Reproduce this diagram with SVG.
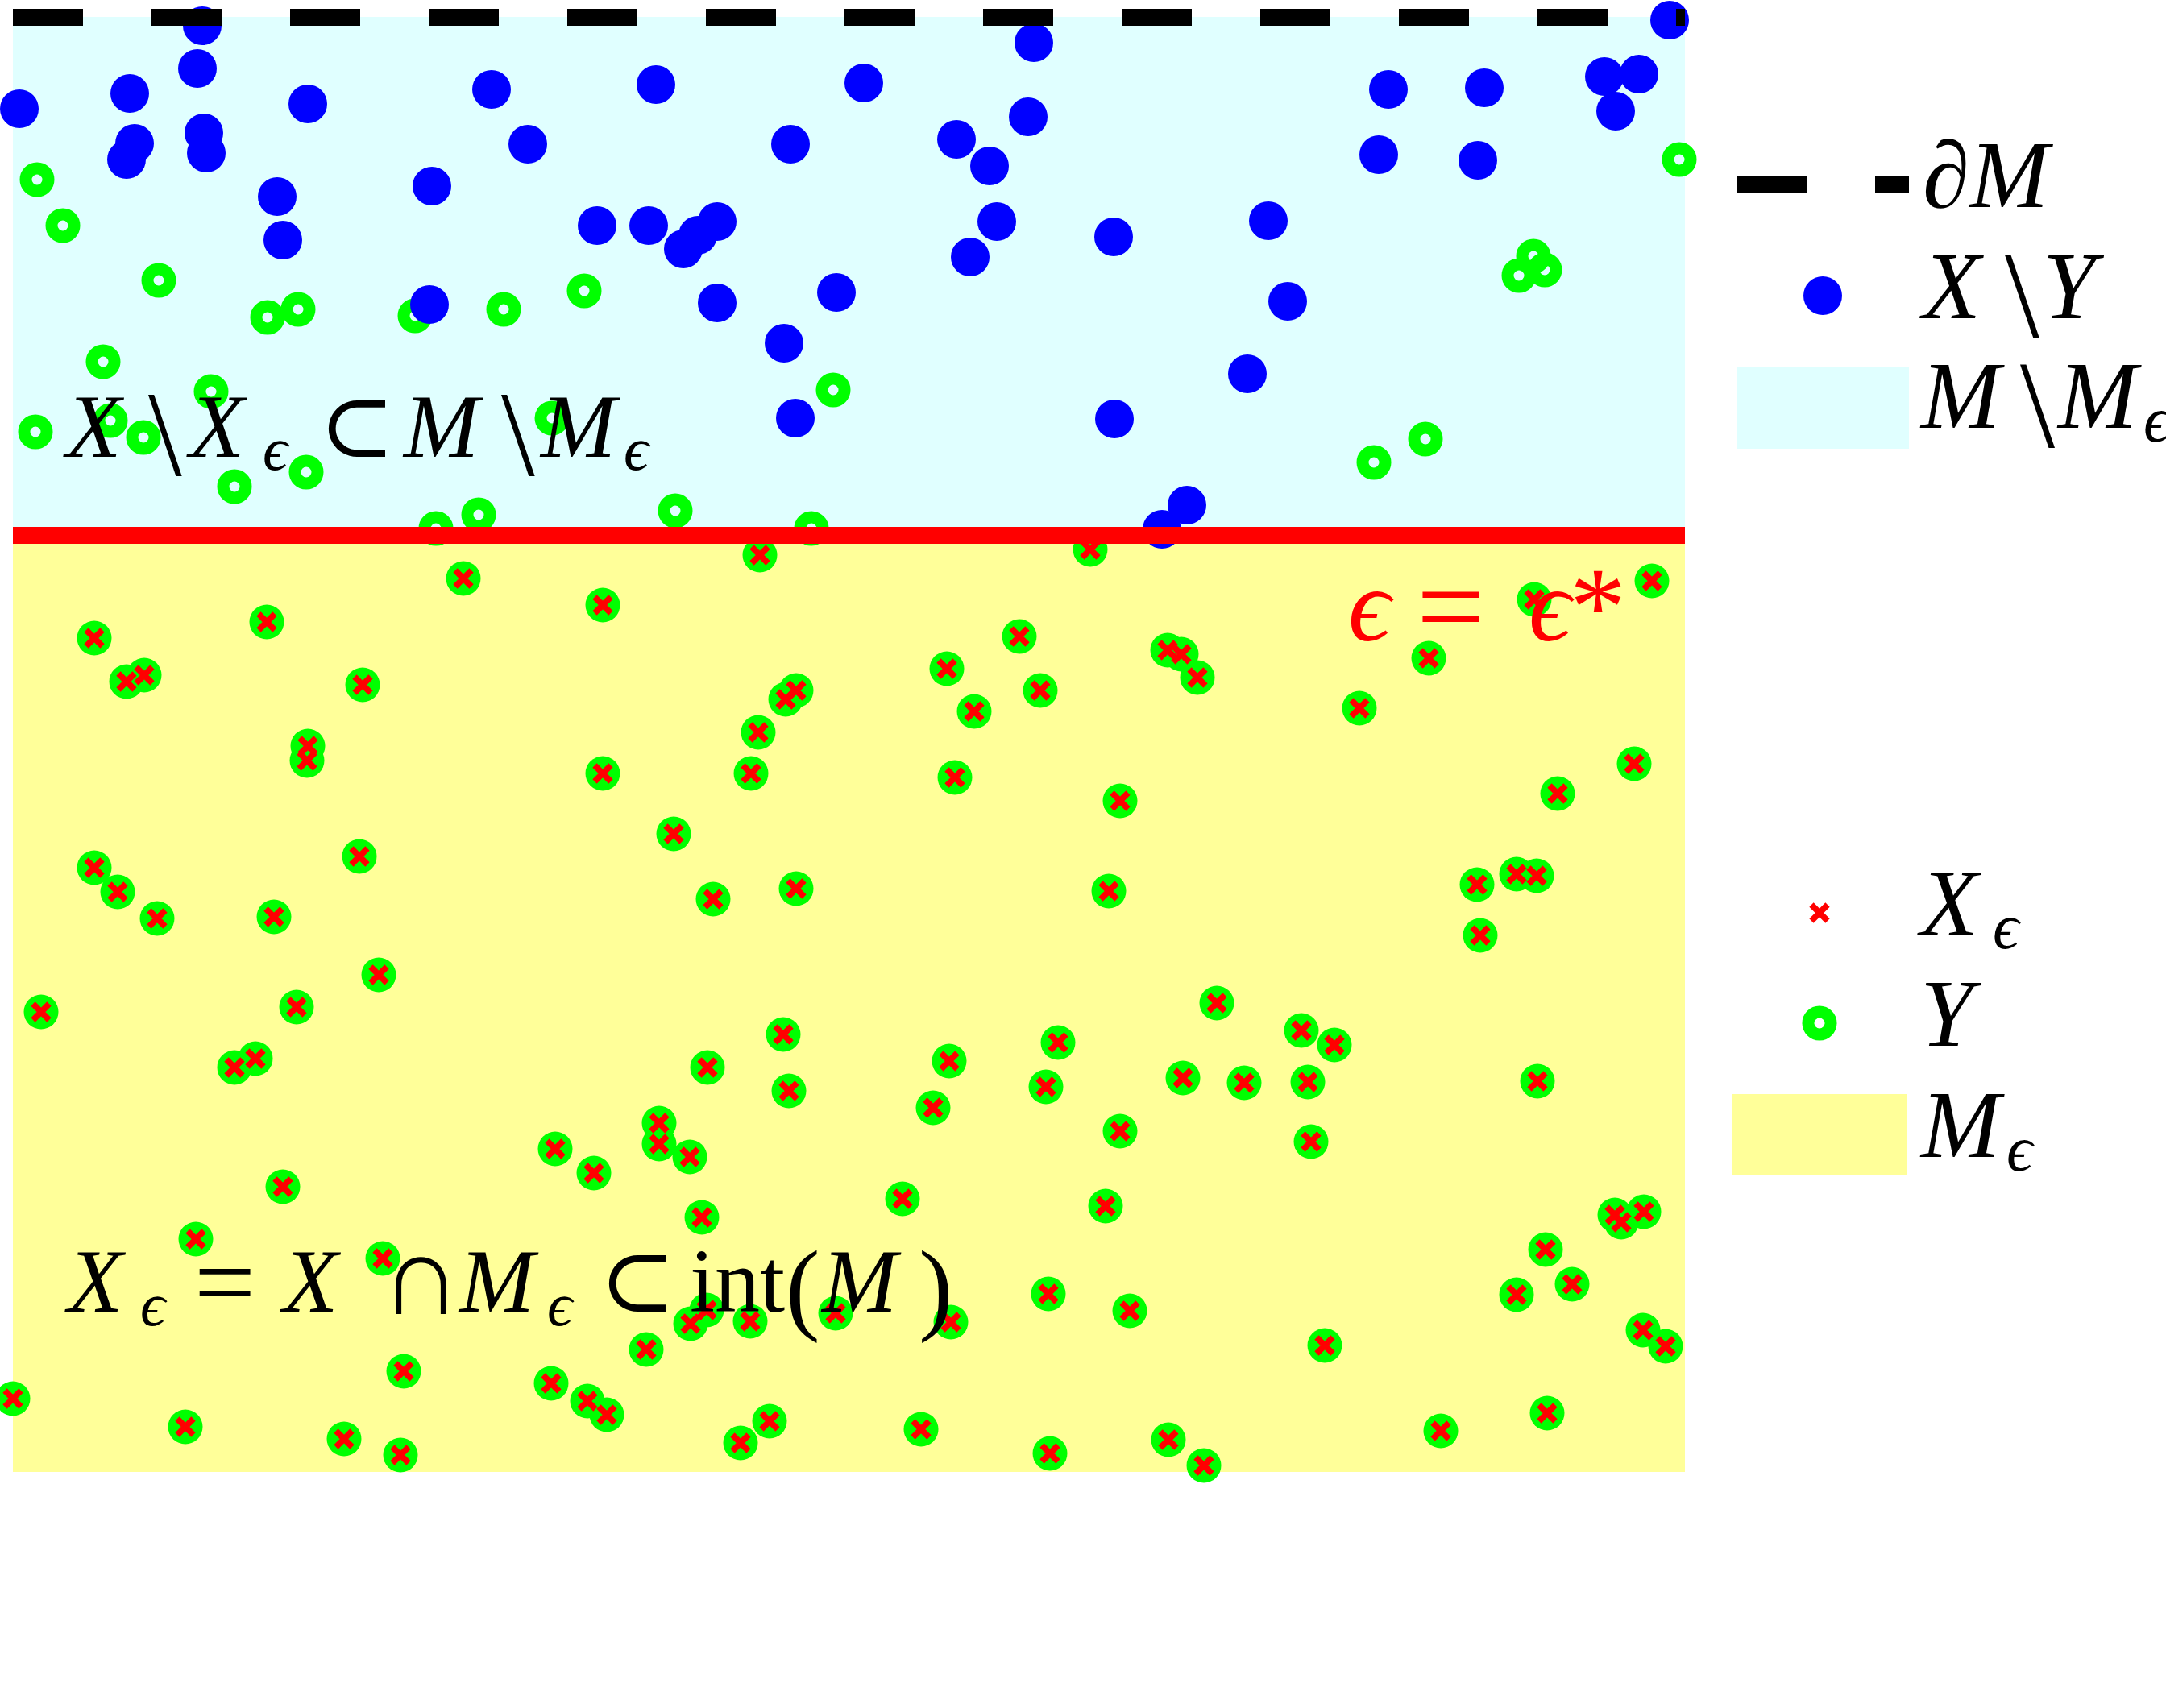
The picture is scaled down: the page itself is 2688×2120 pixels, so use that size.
<svg xmlns="http://www.w3.org/2000/svg" xmlns:xlink="http://www.w3.org/1999/xlink" width="2688" height="2120" viewBox="0 0 2688 2120">
<style>
.t{font-family:"Liberation Serif","DejaVu Serif",serif;fill:#000}
.i{font-style:italic}
.bs{font-family:"Liberation Serif","DejaVu Serif",serif;font-style:normal}
.r{fill:#ff0000}
</style>
<defs>
<circle id="b" r="24" fill="#0000ff"/>
<circle id="ring" r="14" fill="none" stroke="#00ff00" stroke-width="15"/>
<circle id="g" r="21.5" fill="#00ff00"/>
<path id="x" d="M-10,-10L10,10M-10,10L10,-10" stroke="#ff0000" stroke-width="7.5" fill="none"/>
</defs>
<rect width="2688" height="2120" fill="#ffffff"/>
<g id="regions">
<rect x="16" y="21" width="2075" height="643" fill="#e0ffff"/>
<rect x="16" y="664" width="2075" height="1163" fill="#ffff99"/>
</g>
<g id="Y-outer">
<use xlink:href="#ring" x="46" y="223"/><use xlink:href="#ring" x="78" y="280"/><use xlink:href="#ring" x="197" y="348"/><use xlink:href="#ring" x="332" y="394"/><use xlink:href="#ring" x="370" y="384"/><use xlink:href="#ring" x="515" y="392"/><use xlink:href="#ring" x="625" y="384"/><use xlink:href="#ring" x="725" y="361"/><use xlink:href="#ring" x="128" y="449"/><use xlink:href="#ring" x="262" y="486"/><use xlink:href="#ring" x="44" y="536"/><use xlink:href="#ring" x="137" y="522"/><use xlink:href="#ring" x="178" y="543"/><use xlink:href="#ring" x="291" y="604"/><use xlink:href="#ring" x="380" y="586"/><use xlink:href="#ring" x="685" y="519"/><use xlink:href="#ring" x="594" y="639"/><use xlink:href="#ring" x="541" y="656"/><use xlink:href="#ring" x="838" y="634"/><use xlink:href="#ring" x="1007" y="656"/><use xlink:href="#ring" x="1034" y="484"/><use xlink:href="#ring" x="2084" y="198"/><use xlink:href="#ring" x="1885" y="342"/><use xlink:href="#ring" x="1903" y="318"/><use xlink:href="#ring" x="1917" y="335"/><use xlink:href="#ring" x="1705" y="574"/><use xlink:href="#ring" x="1769" y="545"/>
</g>
<g id="X-minus-Y">
<use xlink:href="#b" x="24" y="135"/><use xlink:href="#b" x="251" y="32"/><use xlink:href="#b" x="245" y="85"/><use xlink:href="#b" x="161" y="116"/><use xlink:href="#b" x="167" y="178"/><use xlink:href="#b" x="157" y="198"/><use xlink:href="#b" x="253" y="165"/><use xlink:href="#b" x="256" y="190"/><use xlink:href="#b" x="382" y="129"/><use xlink:href="#b" x="344" y="244"/><use xlink:href="#b" x="351" y="298"/><use xlink:href="#b" x="536" y="231"/><use xlink:href="#b" x="610" y="111"/><use xlink:href="#b" x="655" y="179"/><use xlink:href="#b" x="533" y="378"/><use xlink:href="#b" x="814" y="105"/><use xlink:href="#b" x="741" y="280"/><use xlink:href="#b" x="805" y="280"/><use xlink:href="#b" x="848" y="309"/><use xlink:href="#b" x="866" y="292"/><use xlink:href="#b" x="890" y="275"/><use xlink:href="#b" x="890" y="376"/><use xlink:href="#b" x="981" y="179"/><use xlink:href="#b" x="973" y="426"/><use xlink:href="#b" x="987" y="519"/><use xlink:href="#b" x="1038" y="363"/><use xlink:href="#b" x="1072" y="103"/><use xlink:href="#b" x="1283" y="53"/><use xlink:href="#b" x="1187" y="173"/><use xlink:href="#b" x="1276" y="145"/><use xlink:href="#b" x="1228" y="206"/><use xlink:href="#b" x="1237" y="275"/><use xlink:href="#b" x="1204" y="319"/><use xlink:href="#b" x="1382" y="294"/><use xlink:href="#b" x="1383" y="520"/><use xlink:href="#b" x="1473" y="627"/><use xlink:href="#b" x="1442" y="657"/><use xlink:href="#b" x="1574" y="274"/><use xlink:href="#b" x="1598" y="374"/><use xlink:href="#b" x="1548" y="464"/><use xlink:href="#b" x="1723" y="111"/><use xlink:href="#b" x="1711" y="192"/><use xlink:href="#b" x="1842" y="109"/><use xlink:href="#b" x="1834" y="199"/><use xlink:href="#b" x="1991" y="95"/><use xlink:href="#b" x="2034" y="92"/><use xlink:href="#b" x="2005" y="138"/><use xlink:href="#b" x="2072" y="25"/>
</g>
<g id="Y-inner">
<use xlink:href="#g" x="943" y="689"/><use xlink:href="#g" x="1353" y="682"/><use xlink:href="#g" x="575" y="718"/><use xlink:href="#g" x="748" y="751"/><use xlink:href="#g" x="2050" y="721"/><use xlink:href="#g" x="1904" y="744"/><use xlink:href="#g" x="331" y="772"/><use xlink:href="#g" x="117" y="792"/><use xlink:href="#g" x="157" y="846"/><use xlink:href="#g" x="179" y="838"/><use xlink:href="#g" x="450" y="850"/><use xlink:href="#g" x="1175" y="830"/><use xlink:href="#g" x="1265" y="790"/><use xlink:href="#g" x="1449" y="807"/><use xlink:href="#g" x="1466" y="812"/><use xlink:href="#g" x="1486" y="841"/><use xlink:href="#g" x="1773" y="817"/><use xlink:href="#g" x="975" y="868"/><use xlink:href="#g" x="988" y="857"/><use xlink:href="#g" x="1209" y="883"/><use xlink:href="#g" x="1291" y="857"/><use xlink:href="#g" x="1687" y="879"/><use xlink:href="#g" x="382" y="926"/><use xlink:href="#g" x="381" y="944"/><use xlink:href="#g" x="941" y="909"/><use xlink:href="#g" x="748" y="960"/><use xlink:href="#g" x="932" y="960"/><use xlink:href="#g" x="1185" y="965"/><use xlink:href="#g" x="2028" y="948"/><use xlink:href="#g" x="1933" y="985"/><use xlink:href="#g" x="1390" y="994"/><use xlink:href="#g" x="836" y="1035"/><use xlink:href="#g" x="117" y="1077"/><use xlink:href="#g" x="146" y="1107"/><use xlink:href="#g" x="195" y="1140"/><use xlink:href="#g" x="340" y="1138"/><use xlink:href="#g" x="446" y="1063"/><use xlink:href="#g" x="885" y="1116"/><use xlink:href="#g" x="988" y="1103"/><use xlink:href="#g" x="1376" y="1106"/><use xlink:href="#g" x="1833" y="1098"/><use xlink:href="#g" x="1882" y="1085"/><use xlink:href="#g" x="1907" y="1087"/><use xlink:href="#g" x="1837" y="1161"/><use xlink:href="#g" x="51" y="1256"/><use xlink:href="#g" x="368" y="1250"/><use xlink:href="#g" x="470" y="1210"/><use xlink:href="#g" x="1510" y="1245"/><use xlink:href="#g" x="1615" y="1279"/><use xlink:href="#g" x="1656" y="1297"/><use xlink:href="#g" x="291" y="1325"/><use xlink:href="#g" x="317" y="1314"/><use xlink:href="#g" x="972" y="1284"/><use xlink:href="#g" x="878" y="1325"/><use xlink:href="#g" x="1178" y="1317"/><use xlink:href="#g" x="1313" y="1294"/><use xlink:href="#g" x="979" y="1354"/><use xlink:href="#g" x="1158" y="1375"/><use xlink:href="#g" x="1298" y="1349"/><use xlink:href="#g" x="1468" y="1338"/><use xlink:href="#g" x="1544" y="1344"/><use xlink:href="#g" x="1623" y="1343"/><use xlink:href="#g" x="1908" y="1342"/><use xlink:href="#g" x="818" y="1394"/><use xlink:href="#g" x="818" y="1420"/><use xlink:href="#g" x="856" y="1436"/><use xlink:href="#g" x="689" y="1426"/><use xlink:href="#g" x="737" y="1456"/><use xlink:href="#g" x="1390" y="1404"/><use xlink:href="#g" x="1627" y="1417"/><use xlink:href="#g" x="351" y="1473"/><use xlink:href="#g" x="871" y="1511"/><use xlink:href="#g" x="1120" y="1488"/><use xlink:href="#g" x="1372" y="1497"/><use xlink:href="#g" x="2004" y="1508"/><use xlink:href="#g" x="2012" y="1517"/><use xlink:href="#g" x="2040" y="1504"/><use xlink:href="#g" x="243" y="1538"/><use xlink:href="#g" x="475" y="1562"/><use xlink:href="#g" x="1918" y="1551"/><use xlink:href="#g" x="1882" y="1607"/><use xlink:href="#g" x="1951" y="1594"/><use xlink:href="#g" x="1301" y="1606"/><use xlink:href="#g" x="1402" y="1627"/><use xlink:href="#g" x="1180" y="1641"/><use xlink:href="#g" x="1037" y="1630"/><use xlink:href="#g" x="857" y="1643"/><use xlink:href="#g" x="877" y="1626"/><use xlink:href="#g" x="931" y="1640"/><use xlink:href="#g" x="802" y="1675"/><use xlink:href="#g" x="1644" y="1670"/><use xlink:href="#g" x="2039" y="1651"/><use xlink:href="#g" x="2067" y="1671"/><use xlink:href="#g" x="501" y="1702"/><use xlink:href="#g" x="16" y="1736"/><use xlink:href="#g" x="230" y="1771"/><use xlink:href="#g" x="427" y="1786"/><use xlink:href="#g" x="497" y="1806"/><use xlink:href="#g" x="684" y="1717"/><use xlink:href="#g" x="729" y="1739"/><use xlink:href="#g" x="753" y="1756"/><use xlink:href="#g" x="919" y="1791"/><use xlink:href="#g" x="955" y="1764"/><use xlink:href="#g" x="1143" y="1774"/><use xlink:href="#g" x="1303" y="1804"/><use xlink:href="#g" x="1450" y="1787"/><use xlink:href="#g" x="1494" y="1819"/><use xlink:href="#g" x="1788" y="1776"/><use xlink:href="#g" x="1920" y="1754"/>
</g>
<g id="X-eps">
<use xlink:href="#x" x="943" y="689"/><use xlink:href="#x" x="1353" y="682"/><use xlink:href="#x" x="575" y="718"/><use xlink:href="#x" x="748" y="751"/><use xlink:href="#x" x="2050" y="721"/><use xlink:href="#x" x="1904" y="744"/><use xlink:href="#x" x="331" y="772"/><use xlink:href="#x" x="117" y="792"/><use xlink:href="#x" x="157" y="846"/><use xlink:href="#x" x="179" y="838"/><use xlink:href="#x" x="450" y="850"/><use xlink:href="#x" x="1175" y="830"/><use xlink:href="#x" x="1265" y="790"/><use xlink:href="#x" x="1449" y="807"/><use xlink:href="#x" x="1466" y="812"/><use xlink:href="#x" x="1486" y="841"/><use xlink:href="#x" x="1773" y="817"/><use xlink:href="#x" x="975" y="868"/><use xlink:href="#x" x="988" y="857"/><use xlink:href="#x" x="1209" y="883"/><use xlink:href="#x" x="1291" y="857"/><use xlink:href="#x" x="1687" y="879"/><use xlink:href="#x" x="382" y="926"/><use xlink:href="#x" x="381" y="944"/><use xlink:href="#x" x="941" y="909"/><use xlink:href="#x" x="748" y="960"/><use xlink:href="#x" x="932" y="960"/><use xlink:href="#x" x="1185" y="965"/><use xlink:href="#x" x="2028" y="948"/><use xlink:href="#x" x="1933" y="985"/><use xlink:href="#x" x="1390" y="994"/><use xlink:href="#x" x="836" y="1035"/><use xlink:href="#x" x="117" y="1077"/><use xlink:href="#x" x="146" y="1107"/><use xlink:href="#x" x="195" y="1140"/><use xlink:href="#x" x="340" y="1138"/><use xlink:href="#x" x="446" y="1063"/><use xlink:href="#x" x="885" y="1116"/><use xlink:href="#x" x="988" y="1103"/><use xlink:href="#x" x="1376" y="1106"/><use xlink:href="#x" x="1833" y="1098"/><use xlink:href="#x" x="1882" y="1085"/><use xlink:href="#x" x="1907" y="1087"/><use xlink:href="#x" x="1837" y="1161"/><use xlink:href="#x" x="51" y="1256"/><use xlink:href="#x" x="368" y="1250"/><use xlink:href="#x" x="470" y="1210"/><use xlink:href="#x" x="1510" y="1245"/><use xlink:href="#x" x="1615" y="1279"/><use xlink:href="#x" x="1656" y="1297"/><use xlink:href="#x" x="291" y="1325"/><use xlink:href="#x" x="317" y="1314"/><use xlink:href="#x" x="972" y="1284"/><use xlink:href="#x" x="878" y="1325"/><use xlink:href="#x" x="1178" y="1317"/><use xlink:href="#x" x="1313" y="1294"/><use xlink:href="#x" x="979" y="1354"/><use xlink:href="#x" x="1158" y="1375"/><use xlink:href="#x" x="1298" y="1349"/><use xlink:href="#x" x="1468" y="1338"/><use xlink:href="#x" x="1544" y="1344"/><use xlink:href="#x" x="1623" y="1343"/><use xlink:href="#x" x="1908" y="1342"/><use xlink:href="#x" x="818" y="1394"/><use xlink:href="#x" x="818" y="1420"/><use xlink:href="#x" x="856" y="1436"/><use xlink:href="#x" x="689" y="1426"/><use xlink:href="#x" x="737" y="1456"/><use xlink:href="#x" x="1390" y="1404"/><use xlink:href="#x" x="1627" y="1417"/><use xlink:href="#x" x="351" y="1473"/><use xlink:href="#x" x="871" y="1511"/><use xlink:href="#x" x="1120" y="1488"/><use xlink:href="#x" x="1372" y="1497"/><use xlink:href="#x" x="2004" y="1508"/><use xlink:href="#x" x="2012" y="1517"/><use xlink:href="#x" x="2040" y="1504"/><use xlink:href="#x" x="243" y="1538"/><use xlink:href="#x" x="475" y="1562"/><use xlink:href="#x" x="1918" y="1551"/><use xlink:href="#x" x="1882" y="1607"/><use xlink:href="#x" x="1951" y="1594"/><use xlink:href="#x" x="1301" y="1606"/><use xlink:href="#x" x="1402" y="1627"/><use xlink:href="#x" x="1180" y="1641"/><use xlink:href="#x" x="1037" y="1630"/><use xlink:href="#x" x="857" y="1643"/><use xlink:href="#x" x="877" y="1626"/><use xlink:href="#x" x="931" y="1640"/><use xlink:href="#x" x="802" y="1675"/><use xlink:href="#x" x="1644" y="1670"/><use xlink:href="#x" x="2039" y="1651"/><use xlink:href="#x" x="2067" y="1671"/><use xlink:href="#x" x="501" y="1702"/><use xlink:href="#x" x="16" y="1736"/><use xlink:href="#x" x="230" y="1771"/><use xlink:href="#x" x="427" y="1786"/><use xlink:href="#x" x="497" y="1806"/><use xlink:href="#x" x="684" y="1717"/><use xlink:href="#x" x="729" y="1739"/><use xlink:href="#x" x="753" y="1756"/><use xlink:href="#x" x="919" y="1791"/><use xlink:href="#x" x="955" y="1764"/><use xlink:href="#x" x="1143" y="1774"/><use xlink:href="#x" x="1303" y="1804"/><use xlink:href="#x" x="1450" y="1787"/><use xlink:href="#x" x="1494" y="1819"/><use xlink:href="#x" x="1788" y="1776"/><use xlink:href="#x" x="1920" y="1754"/>
</g>
<g id="lines">
<line x1="16" y1="664.5" x2="2091" y2="664.5" stroke="#ff0000" stroke-width="21"/>
<line x1="16" y1="21.5" x2="2091" y2="21.5" stroke="#000000" stroke-width="21" stroke-dasharray="87 85"/>
</g>
<g id="labels">
<text class="t" font-size="112"><tspan class="i" x="82" y="567">X</tspan><tspan class="bs" x="184" y="590" font-size="150">\</tspan><tspan class="i" x="235" y="567">X</tspan><tspan class="i" x="326" y="583" font-size="77">ϵ</tspan><tspan x="396" y="567">⊂</tspan><tspan class="i" x="501" y="567">M</tspan><tspan class="bs" x="622" y="590" font-size="150">\</tspan><tspan class="i" x="671" y="567">M</tspan><tspan class="i" x="774" y="583" font-size="77">ϵ</tspan></text>
<text class="t" font-size="112"><tspan class="i" x="84" y="1628">X</tspan><tspan class="i" x="174" y="1645" font-size="77">ϵ</tspan><tspan x="241" y="1637" font-size="135">=</tspan><tspan class="i" x="351" y="1628">X</tspan><tspan x="472" y="1631" font-size="140">∩</tspan><tspan class="i" x="570" y="1628">M</tspan><tspan class="i" x="679" y="1645" font-size="77">ϵ</tspan><tspan x="744" y="1628">⊂</tspan><tspan x="856" y="1628">int</tspan><tspan x="975" y="1640" font-size="128">(</tspan><tspan class="i" x="1020" y="1628">M</tspan><tspan x="1140" y="1640" font-size="128">)</tspan></text>
<text class="t r" font-size="130" fill="#ff0000"><tspan class="i" x="1673" y="795">ϵ</tspan><tspan x="1758" y="803" font-size="150">=</tspan><tspan class="i" x="1897" y="795">ϵ</tspan><tspan x="1948" y="800" font-size="140">*</tspan></text>
</g>
<g id="legend">
<line x1="2155" y1="229" x2="2369" y2="229" stroke="#000000" stroke-width="22" stroke-dasharray="87 85"/>
<text class="t i" font-size="118" x="2386" y="257">∂M</text>
<use xlink:href="#b" x="2262" y="367"/>
<text class="t" font-size="118"><tspan class="i" x="2386" y="395">X</tspan><tspan class="bs" x="2488" y="418" font-size="155">\</tspan><tspan class="i" x="2535" y="395">Y</tspan></text>
<rect x="2155" y="455" width="214" height="102" fill="#e0ffff"/>
<text class="t" font-size="118"><tspan class="i" x="2384" y="531">M</tspan><tspan class="bs" x="2507" y="554" font-size="155">\</tspan><tspan class="i" x="2554" y="531">M</tspan><tspan class="i" x="2660" y="548" font-size="80">ϵ</tspan></text>
<use xlink:href="#x" x="2258" y="1133"/>
<text class="t" font-size="118"><tspan class="i" x="2383" y="1161">X</tspan><tspan class="i" x="2473" y="1177" font-size="80">ϵ</tspan></text>
<use xlink:href="#ring" x="2258" y="1270"/>
<text class="t i" font-size="118" x="2383" y="1298">Y</text>
<rect x="2150" y="1358" width="216" height="101" fill="#ffff99"/>
<text class="t" font-size="118"><tspan class="i" x="2384" y="1436">M</tspan><tspan class="i" x="2490" y="1453" font-size="80">ϵ</tspan></text>
</g>
</svg>
